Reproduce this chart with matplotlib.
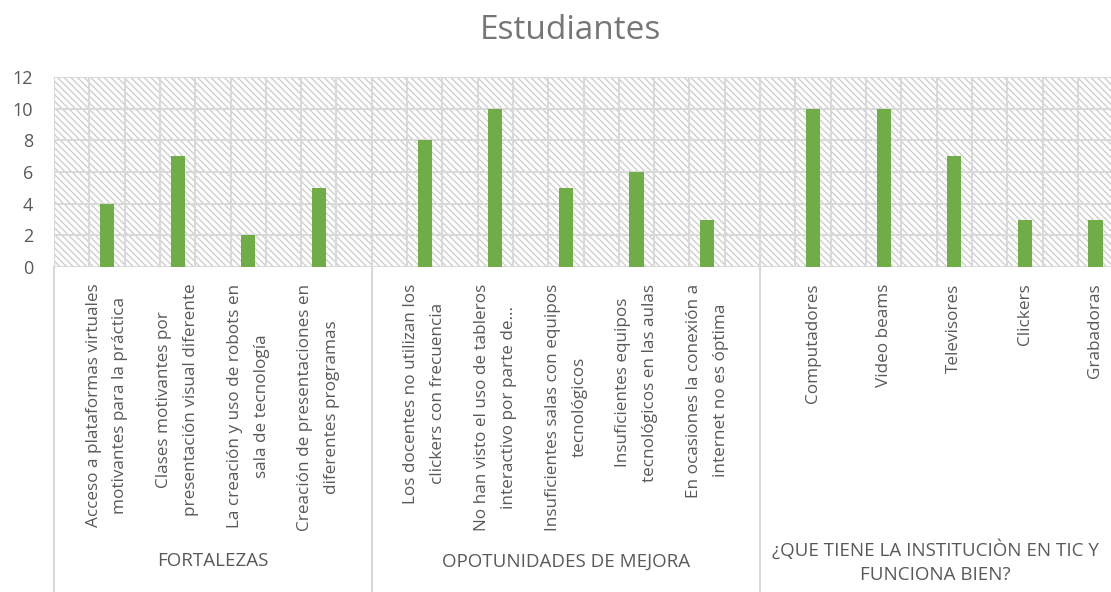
import matplotlib.pyplot as plt
import matplotlib.patches as mpatches
from matplotlib.lines import Line2D

plt.rcParams['font.family'] = ['Open Sans', 'DejaVu Sans']
plt.rcParams['hatch.linewidth'] = 1.0

# data
groups = ["FORTALEZAS", "OPOTUNIDADES DE MEJORA", "¿QUE TIENE LA INSTITUCIÒN EN TIC Y\nFUNCIONA BIEN?"]
labels = [
    ["Acceso a plataformas virtuales\nmotivantes para la práctica",
     "Clases motivantes por\npresentación visual diferente",
     "La creación y uso de robots en\nsala de tecnología",
     "Creación de presentaciones en\ndiferentes programas"],
    ["Los docentes no utilizan los\nclickers con frecuencia",
     "No han visto el uso de tableros\ninteractivo por parte de...",
     "Insuficientes salas con equipos\ntecnológicos",
     "Insuficientes equipos\ntecnológicos en las aulas",
     "En ocasiones la conexión a\ninternet no es óptima"],
    ["Computadores", "Video beams", "Televisores", "Clickers", "Grabadoras"],
]
values = [
    [4, 7, 2, 5],
    [8, 10, 5, 6, 3],
    [10, 10, 7, 3, 3],
]

GREEN = "#70AD47"
GRID = "#d9d9d9"
TXT = "#595959"

fig = plt.figure(figsize=(11.11, 5.92), dpi=100)
ax = fig.add_axes([54 / 1111, 1 - 267 / 592, 1 - 54 / 1111, 190 / 592])

# positions: each group is n items plus half a slot padding on each side
xs, xl, bounds, mids = [], [], [], []
start = -0.75
x_right = 14.22
for lab, val in zip(labels, values):
    n = len(val)
    pos = [start + 0.75 + i for i in range(n)]
    xs += pos
    xl += lab
    end = start + n + 0.5
    bounds.append(start)
    mids.append((start + min(end, x_right)) / 2)
    start = end
allv = [v for g in values for v in g]

ax.set_xlim(-0.75, x_right)
ax.set_ylim(0, 12)

# hatched background
ax.add_patch(mpatches.Rectangle((0, 0), 1, 1, transform=ax.transAxes,
                                facecolor="white", edgecolor="#cfcfcf",
                                hatch="\\\\\\\\\\", linewidth=0, zorder=0))

# grid
for y in range(0, 13, 2):
    ax.axhline(y, color=GRID, lw=1.5, zorder=1)
gx = -0.75
while gx < x_right:
    ax.axvline(gx, color=GRID, lw=1.5, zorder=1)
    gx += 0.5

ax.bar(xs, allv, width=0.2, color=GREEN, zorder=3)

for s in ax.spines.values():
    s.set_visible(False)

ax.set_yticks(range(0, 13, 2))
ax.tick_params(axis="y", length=0, pad=15, labelsize=13, labelcolor=TXT)
ax.set_xticks(xs)
ax.set_xticklabels(xl, rotation=90, ha="center", va="top", multialignment="center",
                   linespacing=1.9)
ax.tick_params(axis="x", length=0, pad=12, labelsize=12.3, labelcolor=TXT)

# group separators below the axis
for b in bounds:
    ax.add_line(Line2D([b, b], [0, -1.75], transform=ax.get_xaxis_transform(),
                       color=GRID, lw=1.5, clip_on=False))

for g, m in zip(groups, mids):
    ax.text(m, -1.55, g, transform=ax.get_xaxis_transform(), ha="center", va="center",
            fontsize=13.5, color=TXT, linespacing=1.5)

fig.text(0.513, 0.948, "Estudiantes", ha="center", va="center", fontsize=24, color="#767676")

fig.savefig("out.png", dpi=100)
